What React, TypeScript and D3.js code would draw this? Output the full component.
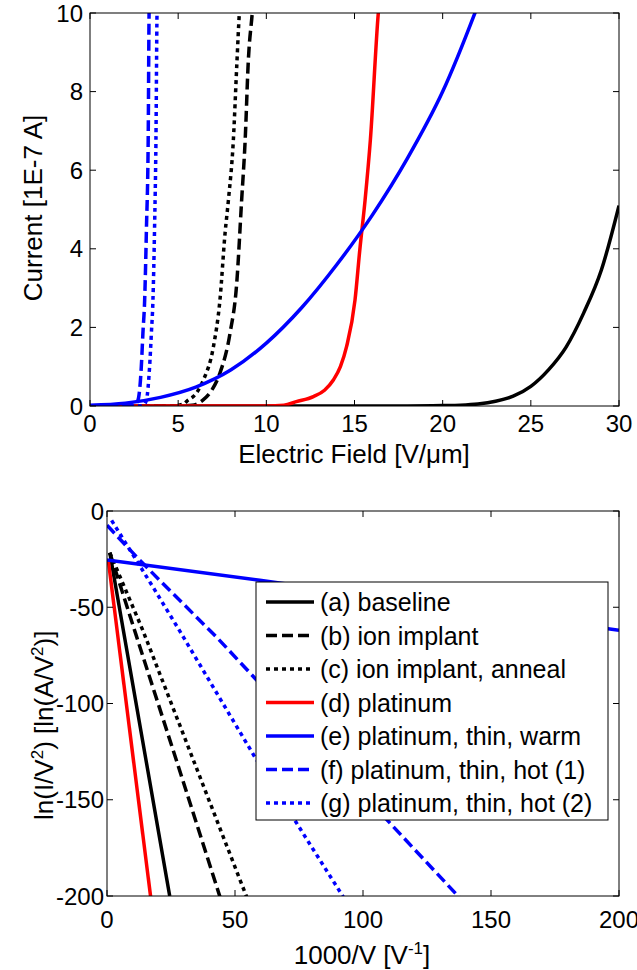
import React from 'react';
import * as d3 from 'd3';

// top panel: current vs electric field
const fieldA = [0, 10, 18, 20, 21, 22, 23, 24, 25, 26, 27, 28, 29, 30];
const currentA = [0, 0, 0, 0.01, 0.02, 0.05, 0.12, 0.25, 0.5, 0.92, 1.5, 2.37, 3.46, 5.1];
const fieldB = [0, 5, 5.8, 6.1, 6.4, 6.9, 7.37, 7.94, 8.32, 8.6, 8.8, 8.98, 9.2, 9.3];
const currentB = [0, 0, 0.02, 0.06, 0.15, 0.4, 0.84, 1.85, 3.12, 5.24, 6.77, 8.8, 10, 10.6];
const fieldC = [0, 4.5, 5.3, 5.56, 5.86, 6.43, 7.0, 7.37, 7.66, 7.85, 8.13, 8.32, 8.47, 8.55];
const currentC = [0, 0, 0.05, 0.15, 0.24, 0.66, 1.51, 2.7, 4.4, 5.24, 6.77, 8.63, 10, 10.5];
const fieldD = [0, 10, 11, 11.7, 12.67, 13.3, 13.8, 14.2, 14.55, 15.03, 15.3, 15.6, 15.9, 16.35, 16.45];
const currentD = [0, 0, 0.02, 0.11, 0.24, 0.4, 0.66, 1.0, 1.51, 2.7, 3.97, 5.24, 6.77, 10, 10.5];
const fieldE = [0, 2, 4, 6, 8, 10, 12, 14, 16, 18, 20, 22, 22.5];
const currentE = [0.02, 0.07, 0.22, 0.48, 0.92, 1.6, 2.5, 3.6, 4.85, 6.3, 8.0, 10.2, 10.8];
const fieldF = [0, 2.0, 2.5, 2.72, 2.91, 3.0, 3.1, 3.2, 3.3, 3.35, 3.38];
const currentF = [0, 0, 0.03, 0.15, 1.0, 1.85, 2.7, 4.5, 6.77, 10, 10.6];
const fieldG = [0, 2.8, 3.05, 3.2, 3.38, 3.48, 3.57, 3.66, 3.74, 3.8, 3.83];
const currentG = [0, 0, 0.03, 0.15, 1.0, 1.85, 2.7, 4.5, 6.77, 10, 10.6];

// bottom panel: Fowler-Nordheim plot
const invA = [1.1, 24.5, 24.8];
const lnA = [-21.7, -200, -202];
const invB = [1.1, 11.5, 27.7, 44.5];
const lnB = [-21.7, -65, -132, -202];
const invC = [1.1, 14, 55.0];
const lnC = [-21.7, -62, -202];
const invD = [0.5, 17.2];
const lnD = [-25.6, -202];
const invE = [0, 59.7, 200];
const lnE = [-25.5, -36, -62];
const invF = [0, 12.8, 28.4, 42.8, 138.5];
const lnF = [-7.4, -25.6, -46.4, -65.5, -202];
const invG = [1.8, 18.1, 28.4, 57.7, 93];
const lnG = [-4.9, -39.8, -62.3, -127.7, -202];

const legendLabels = [
  '(a) baseline',
  '(b) ion implant',
  '(c) ion implant, anneal',
  '(d) platinum',
  '(e) platinum, thin, warm',
  '(f) platinum, thin, hot (1)',
  '(g) platinum, thin, hot (2)',
];

const topXTicks = [0, 5, 10, 15, 20, 25, 30];
const topYTicks = [0, 2, 4, 6, 8, 10];
const botXTicks = [0, 50, 100, 150, 200];
const botYTicks = [0, -50, -100, -150, -200];

const colors = ['#000000', '#000000', '#000000', '#ff0000', '#0000ff', '#0000ff', '#0000ff'];
const dashes = ['none', '11,5', '4,4', 'none', 'none', '11,5', '4,4'];

const font = '"Liberation Sans", Arial, Helvetica, sans-serif';

const zip = (xs: number[], ys: number[]) => xs.map((x, i) => [x, ys[i]] as [number, number]);

const topSeries = [
  zip(fieldA, currentA), zip(fieldB, currentB), zip(fieldC, currentC), zip(fieldD, currentD),
  zip(fieldE, currentE), zip(fieldF, currentF), zip(fieldG, currentG),
];
const botSeries = [
  zip(invA, lnA), zip(invB, lnB), zip(invC, lnC), zip(invD, lnD),
  zip(invE, lnE), zip(invF, lnF), zip(invG, lnG),
];

function Frame({ x, y, xTicks, yTicks }: any) {
  const [l, r] = x.range();
  const [b, t] = y.range();
  const tl = 6;
  return (
    <g stroke="#000" strokeWidth={1} fill="none">
      <rect x={l} y={t} width={r - l} height={b - t} />
      {xTicks.map((v: number) => (
        <g key={'x' + v}>
          <line x1={x(v)} x2={x(v)} y1={b} y2={b - tl} />
          <line x1={x(v)} x2={x(v)} y1={t} y2={t + tl} />
        </g>
      ))}
      {yTicks.map((v: number) => (
        <g key={'y' + v}>
          <line x1={l} x2={l + tl} y1={y(v)} y2={y(v)} />
          <line x1={r} x2={r - tl} y1={y(v)} y2={y(v)} />
        </g>
      ))}
    </g>
  );
}

export default function App() {
  const xTop = d3.scaleLinear().domain([0, 30]).range([90, 619]);
  const yTop = d3.scaleLinear().domain([0, 10]).range([406, 13]);
  const xBot = d3.scaleLinear().domain([0, 200]).range([107, 619]);
  const yBot = d3.scaleLinear().domain([-200, 0]).range([896, 511]);

  const lineTop = d3.line<[number, number]>()
    .x(d => xTop(d[0])).y(d => yTop(d[1]))
    .curve(d3.curveMonotoneX);
  const lineBot = d3.line<[number, number]>()
    .x(d => xBot(d[0])).y(d => yBot(d[1]));

  const tickFont = 24;
  const labelFont = 26;
  const legFont = 25;

  const legX = 256, legY = 582, legW = 352, legH = 238;
  const rowH = 33.5;

  return (
    <svg width={637} height={970} style={{ position: 'absolute', left: 0, top: 0, background: '#fff' }}
      fontFamily={font}>
      <defs>
        <clipPath id="clipTop"><rect x={90} y={13} width={529} height={393} /></clipPath>
        <clipPath id="clipBot"><rect x={107} y={511} width={512} height={385} /></clipPath>
      </defs>

      {/* top panel */}
      <g clipPath="url(#clipTop)">
        {topSeries.map((s, i) => (
          <path key={i} d={lineTop(s) || ''} fill="none" stroke={colors[i]} strokeWidth={3.5}
            strokeDasharray={dashes[i]} />
        ))}
      </g>
      <Frame x={xTop} y={yTop} xTicks={topXTicks} yTicks={topYTicks} />
      {topXTicks.map(v => (
        <text key={v} x={xTop(v)} y={432} fontSize={tickFont} textAnchor="middle">{v}</text>
      ))}
      {topYTicks.map(v => (
        <text key={v} x={83} y={yTop(v) + tickFont * 0.36} fontSize={tickFont} textAnchor="end">{v}</text>
      ))}
      <text x={354} y={463} fontSize={labelFont} textAnchor="middle">Electric Field [V/μm]</text>
      <text transform="translate(42,208) rotate(-90)" fontSize={labelFont} textAnchor="middle">
        Current [1E-7 A]
      </text>

      {/* bottom panel */}
      <g clipPath="url(#clipBot)">
        {botSeries.map((s, i) => (
          <path key={i} d={lineBot(s) || ''} fill="none" stroke={colors[i]} strokeWidth={3.5}
            strokeDasharray={dashes[i]} />
        ))}
      </g>
      <Frame x={xBot} y={yBot} xTicks={botXTicks} yTicks={botYTicks} />
      {botXTicks.map(v => (
        <text key={v} x={xBot(v)} y={928} fontSize={tickFont} textAnchor="middle">{v}</text>
      ))}
      {botYTicks.map(v => (
        <text key={v} x={104} y={yBot(v) + tickFont * 0.36} fontSize={tickFont} textAnchor="end">{v}</text>
      ))}
      <text x={362} y={964} fontSize={labelFont} textAnchor="middle">
        1000/V [V<tspan dy={-10} fontSize={17}>-1</tspan><tspan dy={10}>]</tspan>
      </text>
      <text transform="translate(53,820) rotate(-90)" fontSize={labelFont} textAnchor="start">
        ln(I/V<tspan dy={-10} fontSize={17}>2</tspan><tspan dy={10}>) [ln(A/V</tspan>
        <tspan dy={-10} fontSize={17}>2</tspan><tspan dy={10}>)]</tspan>
      </text>

      {/* legend */}
      <rect x={legX} y={legY} width={legW} height={legH} fill="#fff" stroke="#000" strokeWidth={1} />
      {legendLabels.map((lab, i) => {
        const cy = legY + 20 + i * rowH;
        return (
          <g key={lab}>
            <line x1={legX + 10} x2={legX + 58} y1={cy} y2={cy} stroke={colors[i]} strokeWidth={3.5}
              strokeDasharray={dashes[i]} />
            <text x={legX + 64} y={cy + legFont * 0.36} fontSize={legFont}>{lab}</text>
          </g>
        );
      })}
    </svg>
  );
}
